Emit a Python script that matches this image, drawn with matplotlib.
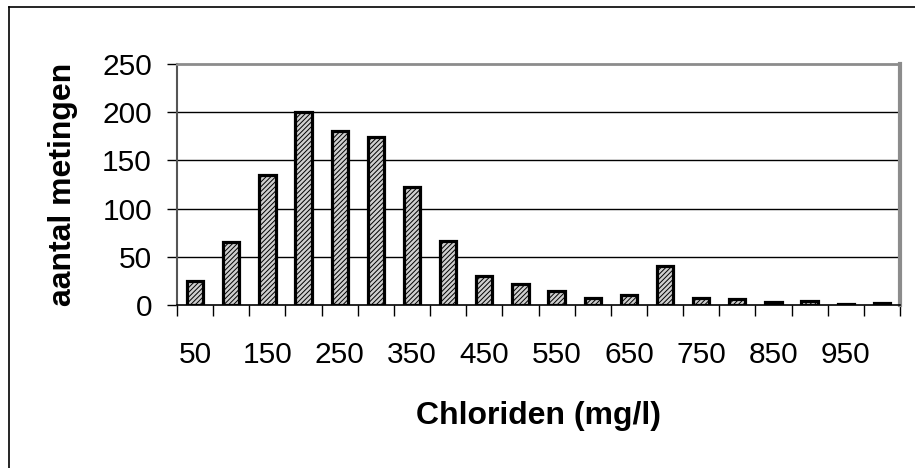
import matplotlib.pyplot as plt
import numpy as np

plt.rcParams['font.family'] = ['Liberation Sans', 'DejaVu Sans']
plt.rcParams['hatch.color'] = '#505050'
plt.rcParams['hatch.linewidth'] = 0.7

# chloride classes (mg/l) and number of measurements per class
classes = [50, 100, 150, 200, 250, 300, 350, 400, 450, 500,
           550, 600, 650, 700, 750, 800, 850, 900, 950, 1000]
counts = [25, 65, 135, 200, 180, 174, 122, 66, 30, 22,
          15, 7, 10, 40, 7, 6, 3, 4, 1, 2]
yticks = [0, 50, 100, 150, 200, 250]

fig = plt.figure(figsize=(9.15, 4.68), dpi=100)
ax = fig.add_axes([177 / 915, 1 - 305 / 468, (900 - 177) / 915, (305 - 64) / 468])

pos = np.arange(len(classes))
ax.bar(pos, counts, width=0.45, facecolor='#cfcfcf', edgecolor='black',
       linewidth=2.3, hatch='///////', zorder=3)

ax.set_xlim(-0.5, len(classes) - 0.5)
ax.set_ylim(0, 250)
ax.set_yticks(yticks)
ax.tick_params(axis='y', labelsize=21.5, length=7, width=1, pad=11, direction='out')
for y in yticks[1:-1]:
    ax.axhline(y, color='black', linewidth=1, zorder=1)

# category boundaries carry the tick marks, every other class is labelled
ax.set_xticks(np.arange(len(classes) + 1) - 0.5)
ax.set_xticklabels([])
ax.tick_params(axis='x', which='major', length=8, width=1)
ax.set_xticks(pos[::2], minor=True)
ax.set_xticklabels([str(c) for c in classes[::2]], minor=True)
ax.tick_params(axis='x', which='minor', length=0, labelsize=21.5, pad=26)

ax.spines['top'].set_color('#8c8c8c')
ax.spines['top'].set_linewidth(2)
ax.spines['right'].set_color('#8c8c8c')
ax.spines['right'].set_linewidth(3)
ax.spines['left'].set_color('#555555')
ax.spines['left'].set_linewidth(1.5)
ax.spines['bottom'].set_linewidth(1.2)

ax.set_xlabel('Chloriden (mg/l)', fontsize=23, fontweight='bold', va='center')
ax.xaxis.set_label_coords((538 - 177) / 723, (305 - 416) / 241)
ax.set_ylabel('aantal metingen', fontsize=23, fontweight='bold', va='center')
ax.yaxis.set_label_coords((63 - 177) / 723, 0.5)

# chart frame
fig.add_artist(plt.Line2D([8.5 / 915, 8.5 / 915], [0, 1 - 6.5 / 468], color='black', linewidth=1.2))
fig.add_artist(plt.Line2D([8.5 / 915, 1], [1 - 6.5 / 468, 1 - 6.5 / 468], color='black', linewidth=1.2))

fig.savefig('out.png', dpi=100)
